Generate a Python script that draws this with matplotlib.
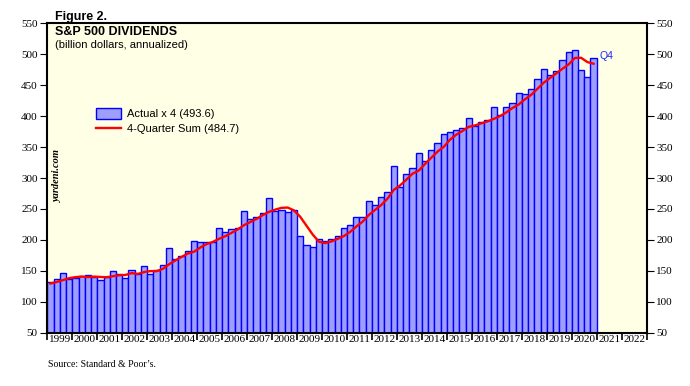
import numpy as np
import matplotlib.pyplot as plt

# ===================== DATA =====================
# quarterly S&P 500 dividends x 4 (billion $), 1999Q1 .. 2020Q4
YEARS = list(range(1999, 2021))
ACTUAL_X4 = [
    132.0, 137.6, 146.6, 136.4,   # 1999
    138.6, 141.2, 143.4, 139.6,   # 2000
    136.0, 139.6, 149.8, 145.6,   # 2001
    138.0, 152.0, 144.5, 157.4,   # 2002
    144.5, 151.0, 160.0, 186.9,   # 2003
    169.0, 174.0, 182.0, 198.7,   # 2004
    196.0, 196.0, 196.0, 219.0,   # 2005
    213.0, 217.0, 219.0, 246.0,   # 2006
    233.0, 237.0, 244.0, 267.0,   # 2007
    247.5, 248.6, 245.9, 248.6,   # 2008
    207.0, 191.0, 188.5, 202.0,   # 2009
    197.6, 202.0, 205.6, 219.6,   # 2010
    224.5, 236.8, 236.8, 263.6,   # 2011
    256.6, 269.0, 278.0, 320.0,   # 2012
    285.0, 306.0, 317.0, 340.0,   # 2013
    328.0, 346.0, 356.4, 371.0,   # 2014
    374.7, 377.9, 380.6, 397.5,   # 2015
    384.0, 391.0, 393.0, 414.0,   # 2016
    402.0, 414.5, 422.0, 436.6,   # 2017
    435.5, 443.5, 460.8, 475.8,   # 2018
    466.0, 473.0, 491.0, 504.3,   # 2019
    507.6, 474.1, 463.5, 493.6,   # 2020
]
# 4-quarter sum (billion $)
SUM_4Q = [
    129.5, 132.0, 135.0, 138.2,
    139.8, 140.7, 139.9, 140.7,
    140.1, 139.7, 141.3, 142.8,
    143.3, 146.4, 145.0, 148.0,
    149.6, 149.4, 153.2, 160.6,
    166.7, 172.5, 178.0, 180.9,
    187.7, 193.2, 196.7, 201.8,
    206.0, 211.3, 217.0, 223.8,
    228.8, 233.8, 240.0, 245.3,
    248.9, 251.8, 252.3, 247.7,
    237.5, 223.1, 208.8, 197.1,
    194.8, 197.5, 201.8, 206.2,
    212.9, 221.6, 229.4, 240.4,
    248.5, 256.5, 266.8, 280.9,
    288.0, 297.3, 307.0, 312.0,
    322.8, 332.8, 342.6, 350.4,
    362.0, 370.0, 376.1, 382.7,
    385.0, 388.3, 391.4, 395.5,
    400.0, 405.9, 413.1, 418.8,
    427.2, 434.4, 444.1, 453.9,
    461.5, 468.9, 476.5, 483.6,
    494.0, 494.3, 487.4, 484.7,
]
YEAR_LABELS = [str(y) for y in range(1999, 2023)]
Y_TICKS = list(range(50, 551, 50))
# =================================================

BG = "#FFFFE6"
BAR_FILL = "#9E9EFF"
BAR_EDGE = "#0000FF"
SERIF = "Liberation Serif"
SANS = "Liberation Sans"

fig = plt.figure(figsize=(6.9, 3.86), dpi=100)
ax = fig.add_axes([0.0686, 0.138, 0.8686, 0.8016])
ax.set_facecolor(BG)

x = 1999 + (np.arange(len(ACTUAL_X4)) + 0.5) / 4.0
bars = ax.bar(x, np.array(ACTUAL_X4) - 50, bottom=50, width=0.25, color=BAR_FILL,
              edgecolor=BAR_EDGE, linewidth=1.0, zorder=2)
line, = ax.plot(x, SUM_4Q, color="#FF0000", linewidth=1.7, zorder=3)

ax.set_xlim(1999, 2023)
ax.set_ylim(50, 550)

# x axis: ticks at year boundaries, labels centered in between
ax.set_xticks(range(1999, 2024))
ax.set_xticklabels([])
ax.set_xticks([y + 0.5 for y in range(1999, 2023)], minor=True)
ax.set_xticklabels(YEAR_LABELS, minor=True, fontfamily=SERIF, fontsize=8)
ax.tick_params(axis="x", which="major", direction="out", length=5, width=1.2)
ax.tick_params(axis="x", which="minor", length=0, pad=1.5)

ax.set_yticks(Y_TICKS)
ax.set_yticklabels([str(t) for t in Y_TICKS], fontfamily=SERIF, fontsize=8)
ax.tick_params(axis="y", which="both", direction="out", length=5, width=0.8,
               left=True, right=True, labelleft=True, labelright=True, pad=2)

for s in ax.spines.values():
    s.set_linewidth(1.5)
    s.set_color("black")

# titles inside chart
ax.text(0.012, 0.99, "S&P 500 DIVIDENDS", transform=ax.transAxes, fontfamily=SANS,
        fontweight="bold", fontsize=9, va="top", ha="left")
ax.text(0.012, 0.93, "(billion dollars, annualized)", transform=ax.transAxes,
        fontfamily=SANS, fontsize=8, va="center", ha="left")
fig.text(0.08, 0.972, "Figure 2.", fontfamily=SANS, fontweight="bold", fontsize=9,
         va="top", ha="left")

ax.text(1999.4, 302, "yardeni.com", rotation=90, fontfamily=SERIF, fontweight="bold",
        fontstyle="italic", fontsize=7.5, ha="center", va="center")
ax.text(2021.1, 497, "Q4", color="#2222FF", fontfamily=SANS, fontsize=7.5,
        ha="left", va="center")

ax.legend([bars, line], ["Actual x 4 (493.6)", "4-Quarter Sum (484.7)"],
          loc="upper left", bbox_to_anchor=(0.074, 0.74), frameon=False,
          prop={"family": SANS, "size": 8}, handlelength=2.2, handleheight=1.1,
          handletextpad=0.6, labelspacing=0.35, borderaxespad=0)

fig.text(0.07, 0.055, "Source: Standard & Poor\u2019s.", fontfamily=SERIF, fontsize=7,
         va="center", ha="left")

fig.savefig("out.png", dpi=100)
